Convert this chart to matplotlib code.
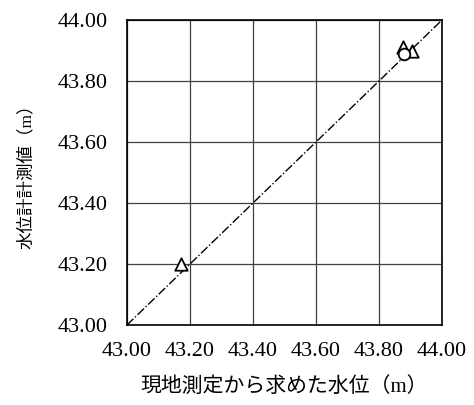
import numpy as np
import matplotlib
matplotlib.use('Agg')
import matplotlib.pyplot as plt

plt.rcParams['font.family'] = ['Liberation Serif', 'Noto Sans CJK JP']

# observed (field survey) vs gauge readings
tri_x = [43.17, 43.875, 43.905]
tri_y = [43.20, 43.91, 43.90]
circ_x = [43.88]
circ_y = [43.89]
line_vals = [43.0, 44.0]
ticks = [43.0, 43.2, 43.4, 43.6, 43.8, 44.0]

fig = plt.figure(figsize=(4.74, 4.05), dpi=100)
ax = fig.add_axes([127 / 474, 80 / 405, 315 / 474, 305 / 405])

ax.plot(line_vals, line_vals, color='black', linestyle='-.', linewidth=1.0, zorder=2)
ax.scatter(tri_x, tri_y, marker='^', s=80, facecolor='white', edgecolor='black',
           linewidth=1.3, zorder=3)
ax.scatter(circ_x, circ_y, marker='o', s=70, facecolor='white', edgecolor='black',
           linewidth=1.3, zorder=3)

ax.set_xlim(43.0, 44.0)
ax.set_ylim(43.0, 44.0)
ax.set_xticks(ticks)
ax.set_yticks(ticks)
ax.set_xticklabels([f'{t:.2f}' for t in ticks], fontsize=16)
ax.set_yticklabels([f'{t:.2f}' for t in ticks], fontsize=16)
ax.tick_params(axis='x', length=0, pad=12)
ax.tick_params(axis='y', length=0, pad=14)
ax.grid(True, color='#404040', linewidth=0.9)
ax.set_axisbelow(True)
for s in ax.spines.values():
    s.set_linewidth(1.2)

ax.set_xlabel('現地測定から求めた水位（m）', fontsize=15, labelpad=12)
ax.set_ylabel('水位計計測値（m）', fontsize=12.6, labelpad=16)

fig.savefig('out.png', dpi=100)
